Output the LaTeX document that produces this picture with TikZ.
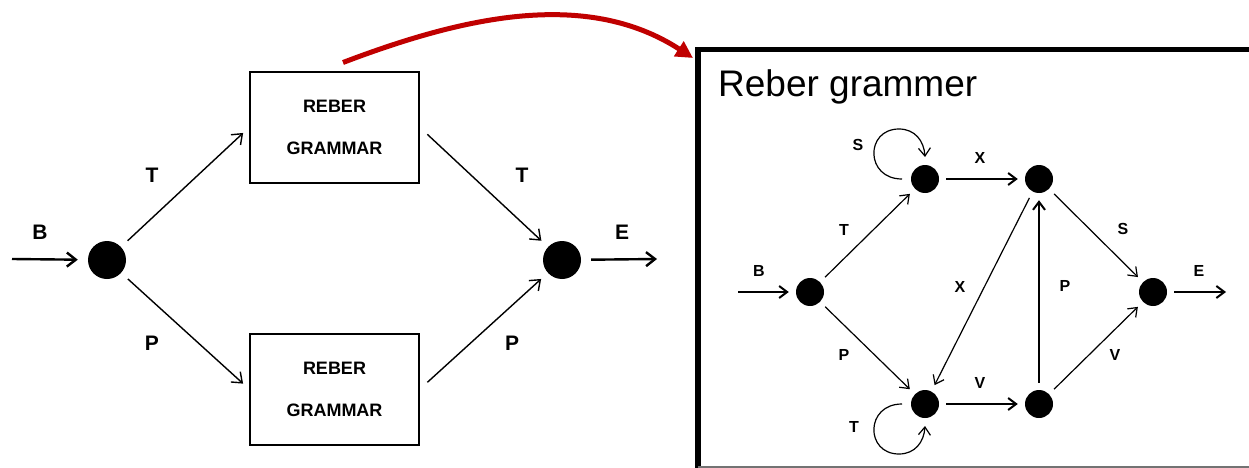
\documentclass[tikz,border=0pt]{standalone}
\usepackage{fontspec}
\setmainfont{Liberation Sans}
\usetikzlibrary{arrows.meta,calc}

\definecolor{linkred}{RGB}{192,0,0}

\tikzset{
  bigdot/.style={circle, fill=black, inner sep=0pt, minimum size=38pt},
  smalldot/.style={circle, fill=black, inner sep=0pt, minimum size=28pt},
  grammarbox/.style={draw, line width=2pt, minimum width=169pt, minimum height=111pt,
    align=center, font=\bfseries\fontsize{18}{42}\selectfont},
  biglabel/.style={font=\bfseries\fontsize{21}{24}\selectfont},
  smalllabel/.style={font=\bfseries\fontsize{16}{19}\selectfont},
  bigarrow/.style={-{Straight Barb[length=9pt,width=14pt]}, line width=1.4pt},
  bigarrowthick/.style={bigarrow, line width=2.4pt},
  smallarrow/.style={-{Straight Barb[length=8pt,width=12pt]}, line width=1.2pt,
    shorten <=7pt, shorten >=7pt},
  smallarrowthick/.style={smallarrow, line width=2pt},
}

\begin{document}
\begin{tikzpicture}[x=1pt,y=-1pt]
\useasboundingbox (0,0) rectangle (1249,468);

% ---------- outer view: two embedded grammars ----------
\node[bigdot] (s0) at (107,260) {};
\node[bigdot] (s1) at (562,260) {};
\node[grammarbox] (g1) at (334.5,127.5) {REBER\\GRAMMAR};
\node[grammarbox] (g2) at (334.5,389) {REBER\\GRAMMAR};
\coordinate (inL) at (12,259);
\coordinate (outL) at (657,259);

\draw[bigarrowthick, shorten >=10pt] (inL) -- (s0);
\draw[bigarrowthick, shorten <=10pt] (s1) -- (outL);
\draw[bigarrow, shorten <=9pt, shorten >=8pt] (s0) -- (g1.west);
\draw[bigarrow, shorten <=9pt, shorten >=8pt] (s0) -- (g2.west);
\draw[bigarrow, shorten <=10pt, shorten >=9pt] (g1.east) -- (s1);
\draw[bigarrow, shorten <=10pt, shorten >=9pt] (g2.east) -- (s1);

\node[biglabel] (lB) at (40,232) {B};
\node[biglabel] (lE) at (622,232) {E};
\node[biglabel] (lT1) at (152,175) {T};
\node[biglabel] (lP1) at (152,343) {P};
\node[biglabel] (lT2) at (522,175) {T};
\node[biglabel] (lP2) at (512,343) {P};

% ---------- framed panel with the grammar itself ----------
\begin{scope}
  \clip (0,0) rectangle (1249,468);
  \draw[line width=5.5pt] (698,470) -- (698,49.5) -- (1260,49.5);
  \draw[line width=1.2pt, black!55] (698,467) -- (1260,467);
\end{scope}
\node[anchor=base west, font=\fontsize{37}{40}\selectfont, inner sep=0pt] (title) at (718,97) {Reber grammer};

\node[smalldot] (n1) at (810,292) {};
\node[smalldot] (n2) at (925,179) {};
\node[smalldot] (n3) at (1039,179) {};
\node[smalldot] (n4) at (925,404) {};
\node[smalldot] (n5) at (1039,404) {};
\node[smalldot] (n6) at (1153,292) {};
\coordinate (inR) at (738,292);
\coordinate (outR) at (1226,292);

\draw[smallarrowthick, shorten <=0pt] (inR) -- (n1);
\draw[smallarrowthick, shorten >=0pt] (n6) -- (outR);
\draw[smallarrow] (n1) -- (n2);
\draw[smallarrow] (n1) -- (n4);
\draw[smallarrowthick] (n2) -- (n3);
\draw[smallarrowthick] (n4) -- (n5);
\draw[smallarrow] (n3) -- (n4);
\draw[smallarrowthick] (n5) -- (n3);
\draw[smallarrow] (n3) -- (n6);
\draw[smallarrow] (n5) -- (n6);

% self loops
\draw[-{Straight Barb[length=8pt,width=12pt]}, line width=1.2pt]
  ($(n2)+(-23,0)$) .. controls ($(n2)+(-60,0)$) and ($(n2)+(-60,-50)$) .. ($(n2)+(-26,-50)$)
  .. controls ($(n2)+(-10,-50)$) and ($(n2)+(-1,-38)$) .. ($(n2)+(0,-22)$);
\draw[-{Straight Barb[length=8pt,width=12pt]}, line width=1.2pt]
  ($(n4)+(-23,0)$) .. controls ($(n4)+(-60,0)$) and ($(n4)+(-60,50)$) .. ($(n4)+(-26,50)$)
  .. controls ($(n4)+(-10,50)$) and ($(n4)+(-1,38)$) .. ($(n4)+(0,22)$);

\node[smalllabel] (rB) at (759,271) {B};
\node[smalllabel] (rE) at (1199,271) {E};
\node[smalllabel] (rT1) at (844,230) {T};
\node[smalllabel] (rP1) at (844,355) {P};
\node[smalllabel] (rX1) at (980,158) {X};
\node[smalllabel] (rX2) at (960,287) {X};
\node[smalllabel] (rV1) at (980,383) {V};
\node[smalllabel] (rP2) at (1065,286) {P};
\node[smalllabel] (rS2) at (1123,229) {S};
\node[smalllabel] (rV2) at (1115,355) {V};
\node[smalllabel] (rS1) at (858,145) {S};
\node[smalllabel] (rT2) at (854,427) {T};

% ---------- link from the boxed grammar to the panel ----------
\coordinate (linkend) at (693,58);
\draw[linkred, line width=5pt, -{Triangle[length=17pt,width=17pt]}]
  ($(g1.north)+(8.5,-8.5)$) .. controls (460,18) and (585,-12) .. (linkend);
\end{tikzpicture}
\end{document}
